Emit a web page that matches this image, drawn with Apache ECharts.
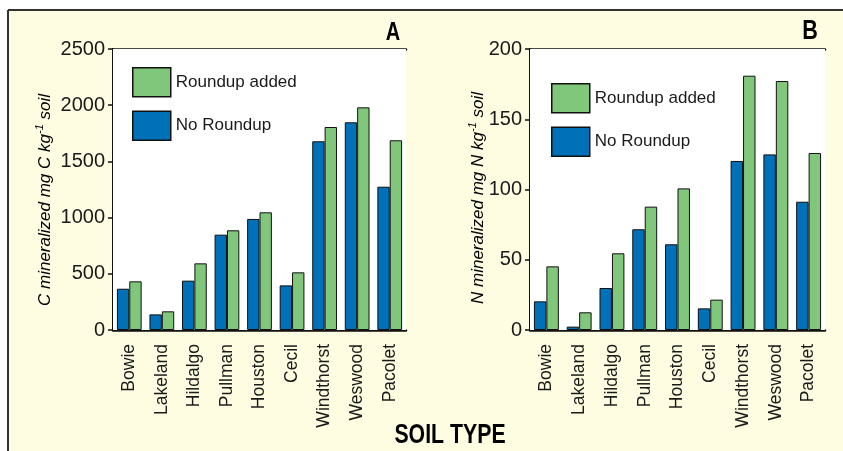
<!DOCTYPE html>
<html><head><meta charset="utf-8">
<script src="https://cdn.jsdelivr.net/npm/echarts@6/dist/echarts.min.js"></script>
<style>html,body{margin:0;padding:0;background:#fff}#c{width:843px;height:451px}</style>
</head><body><div id="c"></div>
<script>
const categories = ['Bowie','Lakeland','Hildalgo','Pullman','Houston','Cecil','Windthorst','Weswood','Pacolet'];
const carbonNoRoundup = [367,139,439,848,988,397,1679,1848,1275];
const carbonRoundup   = [433,166,593,887,1047,513,1806,1981,1688];
const nitrogenNoRoundup = [20.4,2.4,29.9,71.7,61,15.4,120.3,125,91.3];
const nitrogenRoundup   = [45.3,12.6,54.6,87.8,100.8,21.6,181,177.2,126];
const carbonAxis = {min:0, max:2500, interval:500};
const nitrogenAxis = {min:0, max:200, interval:50};
const legendNames = ['Roundup added','No Roundup'];

const REG = "'Liberation Sans',Arial,sans-serif";
const BLUE = '#0070b8', GREEN = '#80c77b', BG = '#fefde1', INK = '#1a1a1a';

function yAx(g, ax){
  return {type:'value', gridIndex:g, min:ax.min, max:ax.max, interval:ax.interval,
    axisLine:{show:true, lineStyle:{color:'#111', width:2}},
    axisTick:{show:true, length:5, lineStyle:{color:'#111', width:1.5}},
    axisLabel:{fontFamily:REG, fontSize:20, color:INK, margin:8, formatter:function(v){return String(v);}},
    splitLine:{show:true, lineStyle:{color:'#222', width:1}}};
}
function xBottom(g){
  return {type:'category', gridIndex:g, data:categories,
    axisLine:{show:true, onZero:false, lineStyle:{color:'#111', width:2.5}},
    axisTick:{show:false},
    axisLabel:{interval:0, rotate:90, fontFamily:REG, fontSize:17.5, color:INK, margin:14}};
}
function xTop(g){
  return {type:'category', gridIndex:g, data:categories, position:'top',
    axisLine:{show:true, onZero:false, lineStyle:{color:'#111', width:2.5}},
    axisTick:{show:false}, axisLabel:{show:false}, splitLine:{show:false}};
}
function bar(name, data, xi, yi, color){
  return {type:'bar', name:name, data:data, xAxisIndex:xi, yAxisIndex:yi,
    barGap:'0%', barCategoryGap:'24%',
    itemStyle:{color:color, borderColor:'#111', borderWidth:1}, emphasis:{disabled:true}};
}
function legend(left, top){
  return {data:legendNames, orient:'vertical', left:left, top:top, padding:0, itemWidth:38, itemHeight:29, itemGap:13,
    icon:'rect', itemStyle:{borderColor:'#111', borderWidth:1.5},
    textStyle:{fontFamily:REG, fontSize:17, color:INK}, selectedMode:false};
}
function yName(x, y, el){
  return {type:'text', x:x, y:y, rotation:Math.PI/2, z:10,
    style:{text:'{n|'+el+' mineralized mg '+el+' kg}{s|-1}{n| soil}',
      rich:{n:{fontFamily:REG, fontStyle:'italic', fontSize:17, color:INK, lineHeight:22},
            s:{fontFamily:REG, fontStyle:'italic', fontSize:11, color:INK, lineHeight:22, verticalAlign:'top'}},
      align:'center', verticalAlign:'middle', textAlign:'center', textVerticalAlign:'middle'}};
}
function label(text, x, y, size, sx){
  return {type:'text', x:x, y:y, z:10, scaleX:sx, scaleY:1,
    style:{text:text, font:"bold "+size+"px "+REG, fill:'#000', align:'center', verticalAlign:'middle', textAlign:'center', textVerticalAlign:'middle'}};
}
const chart = echarts.init(document.getElementById('c'), null, {renderer:'canvas'});
chart.setOption({
  animation:false,
  backgroundColor:'#fff',
  grid:[
    {left:113, top:49, right:437, bottom:121, show:true, backgroundColor:'#fff', borderWidth:0, z:1},
    {left:530, top:49, right:18, bottom:121, show:true, backgroundColor:'#fff', borderWidth:0, z:1}
  ],
  xAxis:[xBottom(0), xBottom(1), xTop(0), xTop(1)],
  yAxis:[yAx(0, carbonAxis), yAx(1, nitrogenAxis)],
  legend:[legend(132, 67), legend(551, 83)],
  series:[
    bar('No Roundup', carbonNoRoundup, 0, 0, BLUE),
    bar('Roundup added', carbonRoundup, 0, 0, GREEN),
    bar('No Roundup', nitrogenNoRoundup, 1, 1, BLUE),
    bar('Roundup added', nitrogenRoundup, 1, 1, GREEN)
  ],
  graphic:[
    {type:'rect', z:-100, silent:true, shape:{x:8, y:10, width:835, height:441}, style:{fill:BG}},
    {type:'line', z:5, shape:{x1:8, y1:10, x2:843, y2:10}, style:{stroke:'#333', lineWidth:2}},
    {type:'line', z:5, shape:{x1:8, y1:10, x2:8, y2:451}, style:{stroke:'#333', lineWidth:2}},
    label('A', 393, 33, 25, 0.8),
    label('B', 810, 32, 27, 0.8),
    label('SOIL TYPE', 450, 435, 28, 0.76),
    yName(45, 200, 'C'),
    yName(478, 198, 'N')
  ]
});
</script></body></html>
